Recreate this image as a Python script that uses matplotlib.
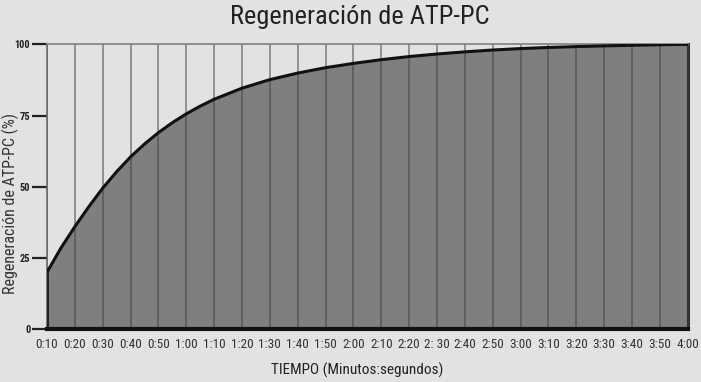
import matplotlib.pyplot as plt
from matplotlib import font_manager
import numpy as np

# marcas del eje x (segundos) y sus etiquetas
segundos = [10, 20, 30, 40, 50, 60, 70, 80, 90, 100, 110, 120,
            130, 140, 150, 160, 170, 180, 190, 200, 210, 220, 230, 240]
etiquetas = ['0:10', '0:20', '0:30', '0:40', '0:50', '1:00', '1:10', '1:20',
             '1:30', '1:40', '1:50', '2:00', '2:10', '2:20', '2: 30', '2:40',
             '2:50', '3:00', '3:10', '3:20', '3:30', '3:40', '3:50', '4:00']
# curva (regeneracion en %)
curva_seg = [10, 15, 20, 25, 30, 35, 40, 45, 50, 55, 60, 65, 70, 80, 90, 100, 110,
             120, 130, 140, 150, 160, 170, 180, 190, 200, 210, 220, 230, 240]
curva_val = [20.0, 28.5, 36.0, 43.0, 49.5, 55.3, 60.5, 65.0, 69.0, 72.5, 75.6, 78.3, 80.7,
             84.6, 87.6, 89.9, 91.8, 93.3, 94.6, 95.7, 96.6, 97.35, 98.0, 98.5, 98.9,
             99.2, 99.45, 99.65, 99.85, 100]
yticks = [0, 25, 50, 75, 100]

names = {f.name for f in font_manager.fontManager.ttflist}
fam = 'DejaVu Sans'
for cand in ['Roboto Condensed', 'Archivo Narrow', 'Liberation Sans Narrow',
             'PT Sans Narrow', 'Pragati Narrow', 'Encode Sans Condensed',
             'IBM Plex Sans Condensed', 'Open Sans Condensed', 'Fira Sans Condensed']:
    if cand in names:
        fam = cand
        break
plt.rcParams['font.family'] = [fam, 'DejaVu Sans']

bg = '#e2e2e2'
fig = plt.figure(figsize=(7.01, 3.82), dpi=100, facecolor=bg)
ax = fig.add_axes([0.067, 0.138, 0.914, 0.746], facecolor=bg)

# lineas verticales claras (fondo) y oscuras (sobre el area)
ax.vlines(segundos, 0, 100, color='#8a8a8a', lw=1.3, zorder=0.5)
ax.fill_between(curva_seg, curva_val, 0, color='#7f7f7f', zorder=1)
altura = np.interp(segundos, curva_seg, curva_val)
ax.vlines(segundos, 0, altura, color='#5c5c5c', lw=1.3, zorder=2)
ax.plot(curva_seg, curva_val, color='#111111', lw=2.2, zorder=3,
        solid_joinstyle='round', solid_capstyle='round')
ax.vlines(curva_seg[0], 0, curva_val[0], color='#222222', lw=2.2, zorder=3)

ax.set_xlim(10, 240)
ax.set_ylim(0, 100)
ax.set_xticks(segundos)
ax.set_xticklabels(etiquetas, fontsize=9.5, color='#333333')
ax.tick_params(axis='x', length=0, pad=6)
ax.set_yticks(yticks)
ax.set_yticklabels([str(v) for v in yticks], fontsize=7.5, fontweight='bold', color='#222222')
ax.tick_params(axis='y', direction='out', length=11, width=1.6, color='#222222', pad=1)

ax.spines['bottom'].set_linewidth(3)
ax.spines['bottom'].set_color('#111111')
ax.spines['right'].set_linewidth(2.2)
ax.spines['right'].set_color('#333333')
ax.spines['top'].set_linewidth(1.2)
ax.spines['top'].set_color('#808080')
ax.spines['left'].set_linewidth(1.2)
ax.spines['left'].set_color('#6a6a6a')

fig.text(0.513, 0.955, 'Regeneración de ATP-PC', ha='center', va='center',
         fontsize=19, color='#222222')
fig.text(0.509, 0.031, 'TIEMPO (Minutos:segundos)', ha='center', va='center',
         fontsize=11, color='#222222')
fig.text(0.015, 0.466, 'Regeneración de ATP-PC (%)', ha='center', va='center',
         rotation=90, fontsize=11.5, color='#333333')

fig.savefig('out.png', dpi=100, facecolor=bg)
